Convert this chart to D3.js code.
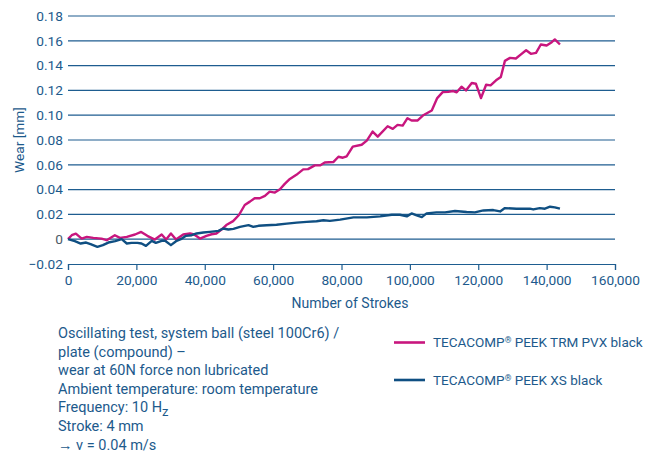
<!DOCTYPE html>
<html>
<head>
<meta charset="utf-8">
<script src="https://cdn.jsdelivr.net/npm/d3@7"></script>
<style>
  body { margin: 0; background: #fff; }
  svg text { font-family: Roboto, "Noto Sans", sans-serif; fill: #1d5a8c; }
</style>
</head>
<body>
<svg id="chart" width="655" height="454"></svg>
<script>
// strokes / wear readings, TECACOMP PEEK TRM PVX black
const pvxStrokes = [
  0, 1100, 2300, 4000, 5500, 7400, 9800, 11300, 13700, 15200,
  17200, 19600, 21400, 23200, 25400, 27400, 28700, 30100, 31600, 33700,
  35700, 36900, 38600, 40500, 42000, 43400, 44900, 46300, 48300, 50000,
  51700, 53200, 54600, 56100, 57600, 59000, 60500, 62000, 63400, 64900,
  66800, 68800, 70200, 72200, 73700, 75100, 77600, 79100, 80400, 81500,
  83300, 85900, 87400, 89100, 90600, 93500, 95000, 96400, 97900, 99300,
  100500, 102200, 103800, 106400, 108000, 109600, 111200, 112700, 113700, 115100,
  116400, 118100, 119300, 120800, 122300, 123600, 125200, 126600, 127800, 129300,
  131000, 132400, 134000, 135400, 136900, 138300, 140000, 141500, 142400, 143900
]
const pvxWear = [
  0, .0032, .0045, .0005, .0019, .0011, .0005, -.0008, .0032, .0011,
  .0019, .0038, .0059, .0027, -.0003, .0038, -.0003, .0046, -.0003, .0038,
  .0046, .0038, .0005, .0027, .004, .0046, .0078, .0114, .0146, .0195,
  .0276, .0303, .033, .033, .0349, .0384, .0376, .0403, .0446, .0486,
  .0519, .0563, .0565, .0595, .0595, .0619, .0622, .0665, .0657, .0668,
  .0746, .0762, .0795, .0868, .0827, .0911, .089, .0922, .0916, .0976,
  .0957, .0957, .0997, .1038, .1138, .1186, .1188, .1195, .1185, .123,
  .12, .126, .1254, .1138, .1246, .1241, .1281, .1308, .1438, .1462,
  .1457, .1489, .1524, .1495, .1503, .157, .1562, .1589, .1611, .157
]

// TECACOMP PEEK XS black
const xsStrokes = [
  0, 2000, 3700, 5300, 6600, 8600, 10200, 11800, 13800, 15700,
  17200, 18600, 20300, 21500, 22800, 24500, 25700, 27400, 28400, 30100,
  31600, 33000, 34500, 36200, 37600, 39600, 41500, 44000, 45400, 46900,
  48400, 50300, 52800, 54200, 55700, 58100, 61000, 64000, 66900, 69800,
  72700, 74700, 76600, 79600, 83500, 87400, 91300, 94700, 97100, 99100,
  100500, 102000, 103500, 104900, 107800, 110300, 113200, 116600, 119000, 121500,
  124400, 126400, 127800, 131200, 135100, 136100, 138000, 139500, 141000, 142400,
  143900
]
const xsWear = [
  0, -.0016, -.0035, -.0027, -.004, -.0062, -.0048, -.0027, -.0016, 0,
  -.0035, -.003, -.003, -.0035, -.0054, -.0013, -.003, -.0013, -.0013, -.0048,
  -.0016, 0, .0027, .0032, .0046, .0054, .0059, .0067, .0086, .0078,
  .0083, .0099, .0113, .0099, .0108, .0113, .0116, .0126, .0134, .014,
  .0145, .0153, .0148, .0158, .0176, .0176, .0184, .0197, .0197, .0184,
  .0208, .0192, .0178, .0208, .0216, .0216, .0227, .0219, .0216, .0232,
  .0235, .0224, .0251, .0246, .0246, .024, .0251, .0246, .0262, .0257,
  .0246
]

const seriesNames = ['TECACOMP® PEEK TRM PVX black', 'TECACOMP® PEEK XS black']
const seriesColors = ['#c8167e', '#0f4f82']

const yTicks = [-0.02, 0, 0.02, 0.04, 0.06, 0.08, 0.10, 0.12, 0.14, 0.16, 0.18]
const xTicks = [0, 20000, 40000, 60000, 80000, 100000, 120000, 140000, 160000]

const noteLines = [
  'Oscillating test, system ball (steel 100Cr6) /',
  'plate (compound) –',
  'wear at 60N force non lubricated',
  'Ambient temperature: room temperature',
  'Frequency: 10 H',
  'Stroke: 4 mm',
  '→  v = 0.04 m/s'
]

const svg = d3.select('#chart')

const x = d3.scaleLinear().domain([0, 160000]).range([68, 615])
const y = d3.scaleLinear().domain([-0.02, 0.18]).range([264, 16])

// horizontal grid (the bottom one is the x axis line)
svg.append('g')
  .selectAll('line')
  .data(yTicks.slice(1))
  .enter()
  .append('line')
  .attr('x1', x(0))
  .attr('x2', x(160000))
  .attr('y1', d => y(d))
  .attr('y2', d => y(d))
  .attr('stroke', '#1e5d90')
  .attr('stroke-width', 1.2)

// y tick labels
svg.append('g')
  .selectAll('text')
  .data(yTicks)
  .enter()
  .append('text')
  .attr('x', 63)
  .attr('y', d => y(d))
  .attr('dy', '0.35em')
  .attr('text-anchor', 'end')
  .attr('font-size', 13.7)
  .style('fill', d => d === 0 ? '#4d5b68' : null)
  .text(d => d === 0 ? '0' : d3.format('.2f')(d))

// x axis
const xAxis = svg.append('g')
  .attr('transform', `translate(0, ${y(-0.02)})`)
  .call(d3.axisBottom(x).tickValues(xTicks).tickSize(6).tickPadding(5)
    .tickFormat(d3.format(',')))
xAxis.select('.domain').attr('stroke', '#1e5d90').attr('stroke-width', 1.2)
xAxis.selectAll('.tick line').attr('stroke', '#1e5d90').attr('stroke-width', 1.2)
xAxis.selectAll('.tick text')
  .attr('font-size', 13.7)
  .attr('font-family', 'Roboto, sans-serif')
  .style('fill', '#1d5a8c')

// axis titles
svg.append('text')
  .attr('x', 350)
  .attr('y', 303)
  .attr('dy', '0.35em')
  .attr('text-anchor', 'middle')
  .attr('font-size', 14)
  .text('Number of Strokes')

svg.append('text')
  .attr('transform', `translate(19, 140) rotate(-90)`)
  .attr('dy', '0.35em')
  .attr('text-anchor', 'middle')
  .attr('font-size', 13.7)
  .text('Wear [mm]')

// curves
const line = d3.line()
  .x(d => x(d[0]))
  .y(d => y(d[1]))

const series = [d3.zip(pvxStrokes, pvxWear), d3.zip(xsStrokes, xsWear)]

svg.append('g')
  .selectAll('path')
  .data(series)
  .enter()
  .append('path')
  .attr('d', line)
  .attr('fill', 'none')
  .attr('stroke', (d, i) => seriesColors[i])
  .attr('stroke-width', 2.4)
  .attr('stroke-linejoin', 'round')

// legend
const legend = svg.append('g')
  .selectAll('g')
  .data(seriesNames)
  .enter()
  .append('g')
  .attr('transform', (d, i) => `translate(394, ${342.5 + i * 37.5})`)

legend.append('line')
  .attr('x1', 0)
  .attr('x2', 31)
  .attr('stroke', (d, i) => seriesColors[i])
  .attr('stroke-width', 2.6)

// the ® is set small and raised, as in the original
const legendText = legend.append('text')
  .attr('x', 39)
  .attr('dy', '0.35em')
  .attr('font-size', 13.5)
legendText.append('tspan').text(d => d.split('®')[0])
legendText.append('tspan')
  .attr('font-size', 8.5)
  .attr('dy', '-0.45em')
  .text('®')
legendText.append('tspan')
  .attr('dy', '0.3em')
  .text(d => d.split('®')[1])

// test conditions
const notes = svg.append('g')
  .selectAll('text')
  .data(noteLines)
  .enter()
  .append('text')
  .attr('x', 58)
  .attr('y', (d, i) => 333 + i * 18.6)
  .attr('dy', '0.35em')
  .attr('font-size', 14.5)
  .text(d => d)

notes.filter(d => d.startsWith('Frequency'))
  .append('tspan')
  .attr('dy', '0.25em')
  .attr('font-size', 13)
  .text('z')
</script>
</body>
</html>
